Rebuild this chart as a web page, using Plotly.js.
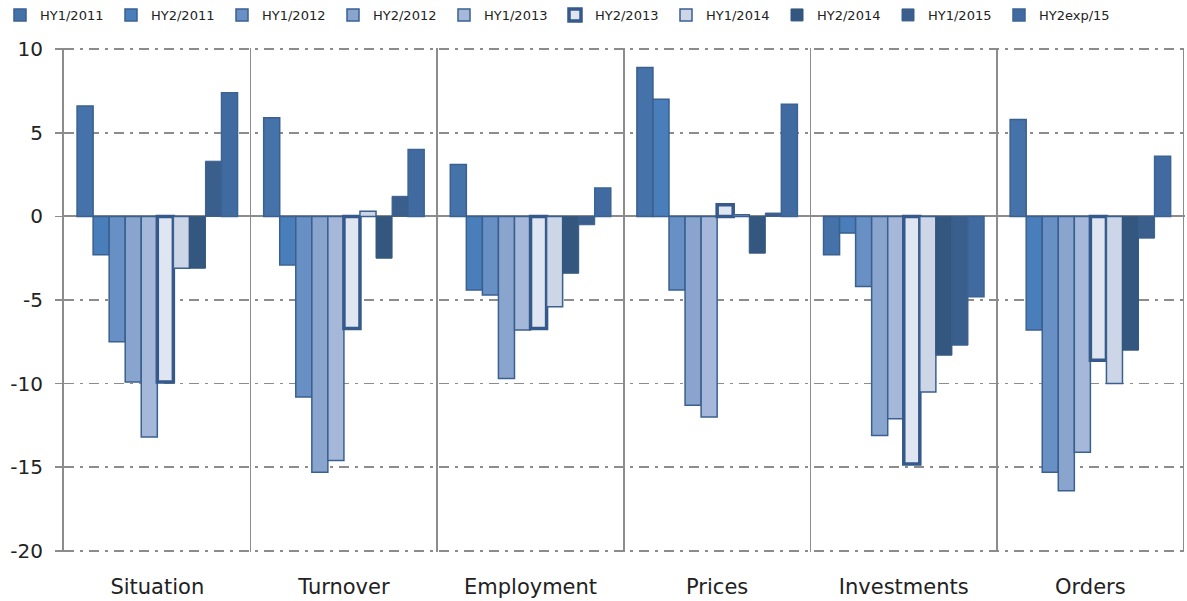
<!DOCTYPE html>
<html>
<head>
<meta charset="utf-8">
<script src="https://cdn.plot.ly/plotly-3.0.1.min.js"></script>
<style>html,body{margin:0;padding:0;background:#fff;}#chart{width:1187px;height:601px;}</style>
</head>
<body>
<div id="chart"></div>
<script>
const categories = ["Situation", "Turnover", "Employment", "Prices", "Investments", "Orders"];
const seriesNames = ["HY1/2011", "HY2/2011", "HY1/2012", "HY2/2012", "HY1/2013", "HY2/2013", "HY1/2014", "HY2/2014", "HY1/2015", "HY2exp/15"];
const hy1_2011 = [6.6, 5.9, 3.1, 8.9, -2.3, 5.8];
const hy2_2011 = [-2.3, -2.9, -4.4, 7.0, -1.0, -6.8];
const hy1_2012 = [-7.5, -10.8, -4.7, -4.4, -4.2, -15.3];
const hy2_2012 = [-9.9, -15.3, -9.7, -11.3, -13.1, -16.4];
const hy1_2013 = [-13.2, -14.6, -6.8, -12.0, -12.1, -14.1];
const hy2_2013 = [-9.9, -6.7, -6.7, 0.7, -14.8, -8.6];
const hy1_2014 = [-3.1, 0.3, -5.4, 0.1, -10.5, -10.0];
const hy2_2014 = [-3.1, -2.5, -3.4, -2.2, -8.3, -8.0];
const hy1_2015 = [3.3, 1.2, -0.5, 0.2, -7.7, -1.3];
const hy2exp_15 = [7.4, 4.0, 1.7, 6.7, -4.8, 3.6];
const yTicks = [-20, -15, -10, -5, 0, 5, 10];

const seriesValues = [hy1_2011, hy2_2011, hy1_2012, hy2_2012, hy1_2013, hy2_2013, hy1_2014, hy2_2014, hy1_2015, hy2exp_15];
const fillColors = ["#4572a8", "#4a7ebb", "#6890c5", "#8aa5cd", "#a5b8d9", "#dfe6f2", "#cdd6e6", "#34577f", "#3a5f8c", "#416ba0"];
const lineColors = ["#3a6090", "#3a6090", "#3a6090", "#3a6090", "#3a6090", "#35598a", "#3a6090", "#34577f", "#3a5f8c", "#3a6494"];
const lineWidths = [1.5, 1.5, 1.5, 1.5, 1.5, 3.5, 1.5, 1, 1, 1.5];

const traces = seriesNames.map((name, i) => ({
  type: "bar",
  name: name,
  x: categories,
  y: seriesValues[i],
  marker: { color: fillColors[i], line: { color: lineColors[i], width: lineWidths[i] } },
  hoverinfo: "x+y+name"
}));

const gridGray = "#8c8c8c";
const layout = {
  width: 1187,
  height: 601,
  margin: { l: 64, r: 2, t: 48, b: 49 },
  paper_bgcolor: "#ffffff",
  plot_bgcolor: "#ffffff",
  font: { family: "DejaVu Sans, sans-serif", color: "#222222" },
  barmode: "group",
  bargap: 0.14,
  bargroupgap: 0,
  showlegend: true,
  legend: {
    orientation: "h",
    xref: "container", yref: "container",
    x: 0, y: 1, xanchor: "left", yanchor: "top",
    entrywidth: 66,
    font: { size: 13, color: "#222222" },
    bgcolor: "rgba(0,0,0,0)",
    traceorder: "normal"
  },
  xaxis: {
    type: "category",
    range: [-0.5, 5.507],
    tickson: "boundaries",
    showgrid: true,
    gridcolor: gridGray,
    gridwidth: 1.5,
    showline: false,
    ticks: "",
    tickfont: { size: 21, color: "#222222" },
    ticklabelstandoff: 20,
    zeroline: false
  },
  yaxis: {
    range: [-20.07, 10.07],
    tickvals: yTicks,
    ticktext: yTicks.map(String),
    showgrid: true,
    gridcolor: gridGray,
    gridwidth: 1.5,
    griddash: "10px,6px,3px,6px",
    zeroline: true,
    zerolinecolor: gridGray,
    zerolinewidth: 2,
    showline: true,
    linecolor: gridGray,
    linewidth: 2,
    ticks: "outside",
    ticklen: 7,
    tickwidth: 1.5,
    tickcolor: gridGray,
    tickfont: { size: 20, color: "#222222" },
    ticklabelstandoff: 8
  }
};

Plotly.newPlot("chart", traces, layout, { displayModeBar: false, staticPlot: true });
</script>
</body>
</html>
